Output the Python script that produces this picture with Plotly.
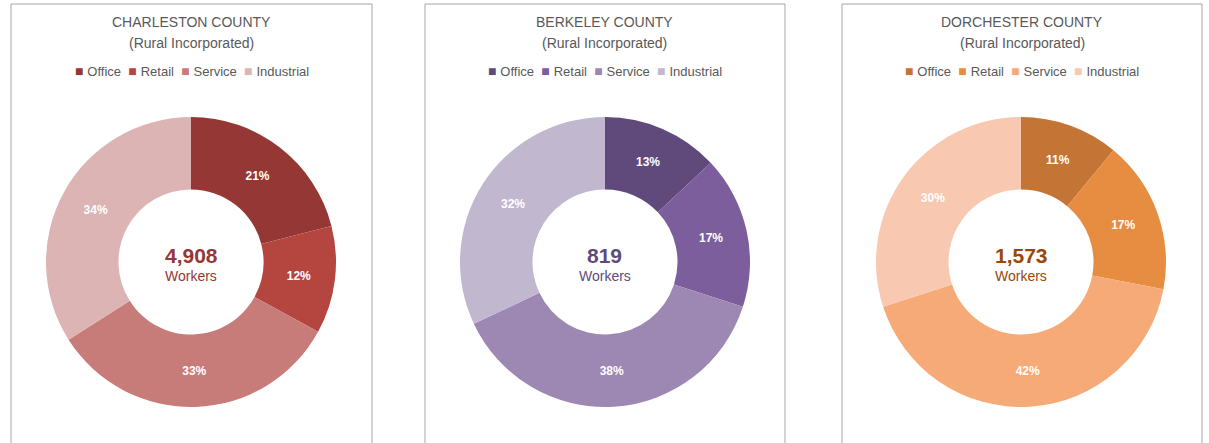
import plotly.graph_objects as go

categories = ["Office", "Retail", "Service", "Industrial"]

charleston_values = [21, 12, 33, 34]
berkeley_values = [13, 17, 38, 32]
dorchester_values = [11, 17, 42, 30]

counties = ["CHARLESTON COUNTY", "BERKELEY COUNTY", "DORCHESTER COUNTY"]
subtitle = "(Rural Incorporated)"
workers = ["4,908", "819", "1,573"]

charleston_colors = ["#953735", "#B5463F", "#C87C7A", "#DDB4B4"]
berkeley_colors = ["#604A7B", "#7B5E9B", "#9D88B4", "#C1B8D0"]
dorchester_colors = ["#C47535", "#E68D42", "#F6AA77", "#F8C9B0"]
center_colors = ["#953735", "#604A7B", "#984807"]

W, H = 1209, 443
FONT = "Liberation Sans, Arial, sans-serif"

# panel geometry (pixels)
panels = [(11, 372), (425, 785), (842, 1202)]
pie_centers_x = [191, 605, 1021]
pie_center_y = 262
pie_r = 145

values_list = [charleston_values, berkeley_values, dorchester_values]
colors_list = [charleston_colors, berkeley_colors, dorchester_colors]

fig = go.Figure()

for i in range(3):
    cx = pie_centers_x[i]
    fig.add_trace(go.Pie(
        name=counties[i],
        labels=categories,
        values=values_list[i],
        marker=dict(colors=colors_list[i], line=dict(width=0)),
        hole=0.5,
        sort=False,
        direction="clockwise",
        rotation=0,
        texttemplate="%{value}%",
        textposition="inside",
        insidetextorientation="horizontal",
        textfont=dict(family=FONT, size=12, color="white", weight="bold"),
        hovertemplate="%{label}: %{value}%<extra>" + counties[i] + "</extra>",
        domain=dict(x=[(cx - pie_r) / W, (cx + pie_r) / W],
                    y=[1 - (pie_center_y + pie_r) / H, 1 - (pie_center_y - pie_r) / H]),
        showlegend=False,
    ))

NB = "\u00a0"
shapes = []
annotations = []
for i in range(3):
    x0, x1 = panels[i]
    pcx = (x0 + x1) / 2
    shapes.append(dict(type="rect", xref="paper", yref="paper",
                       x0=x0 / W, x1=x1 / W, y0=-0.05, y1=1 - 4 / H,
                       line=dict(color="#A6A6A6", width=1), fillcolor="rgba(0,0,0,0)",
                       layer="below"))
    annotations.append(dict(text=counties[i], x=pcx / W, y=1 - 22 / H, xref="paper", yref="paper",
                            showarrow=False, xanchor="center", yanchor="middle",
                            font=dict(family=FONT, size=14, color="#595959")))
    annotations.append(dict(text=subtitle, x=pcx / W, y=1 - 43 / H, xref="paper", yref="paper",
                            showarrow=False, xanchor="center", yanchor="middle",
                            font=dict(family=FONT, size=14, color="#595959")))
    # legend row
    parts = []
    for cat, col in zip(categories, colors_list[i]):
        parts.append("<span style='color:%s;font-size:14px'>\u25A0%s</span>%s" % (col, NB, cat))
    legend_text = (NB * 2).join(parts)
    annotations.append(dict(text=legend_text, x=pcx / W, y=1 - 71 / H, xref="paper", yref="paper",
                            showarrow=False, xanchor="center", yanchor="middle",
                            font=dict(family=FONT, size=13, color="#595959")))
    cx = pie_centers_x[i]
    annotations.append(dict(text="<b>" + workers[i] + "</b>", x=cx / W, y=1 - 255 / H,
                            xref="paper", yref="paper", showarrow=False,
                            xanchor="center", yanchor="middle",
                            font=dict(family=FONT, size=21, color=center_colors[i])))
    annotations.append(dict(text="Workers", x=cx / W, y=1 - 276 / H,
                            xref="paper", yref="paper", showarrow=False,
                            xanchor="center", yanchor="middle",
                            font=dict(family=FONT, size=14, color=center_colors[i])))

fig.update_layout(
    width=W, height=H,
    margin=dict(l=0, r=0, t=0, b=0),
    paper_bgcolor="white", plot_bgcolor="white",
    shapes=shapes, annotations=annotations,
    showlegend=False,
)

fig.write_html("out.html")
